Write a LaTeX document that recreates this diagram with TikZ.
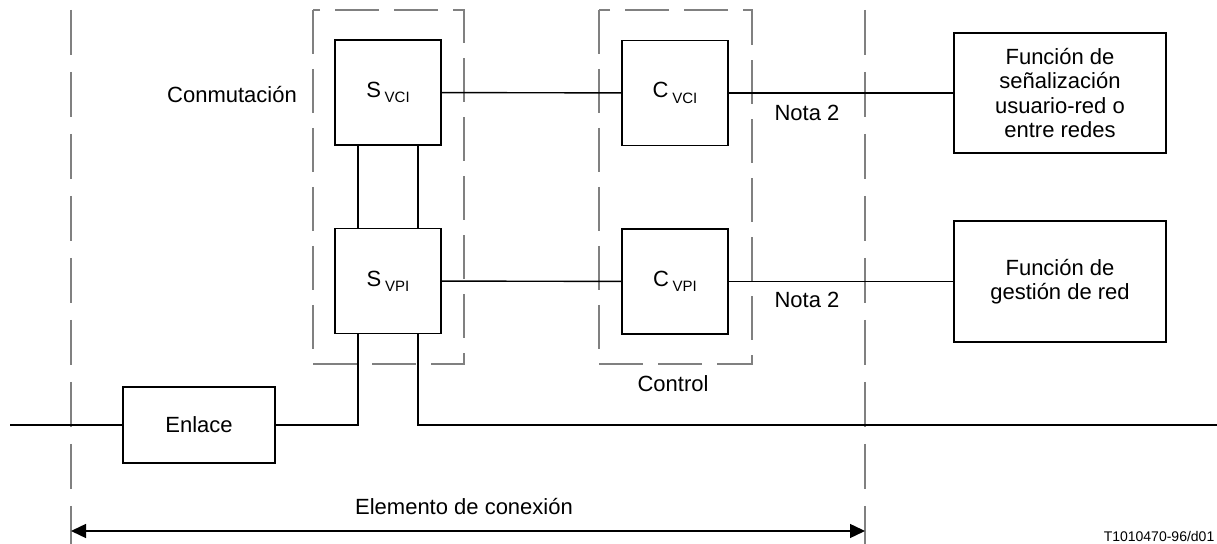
\documentclass[tikz,border=0pt]{standalone}
\usepackage{fontspec}
\setmainfont{Liberation Sans}
\usetikzlibrary{arrows.meta}
\newcommand{\lowtag}[1]{\,\raisebox{-2.6pt}{\fontsize{7.5}{9}\selectfont #1}}
\begin{document}
\begin{tikzpicture}[x=0.5pt,y=-0.5pt,
    font=\fontsize{11}{12.3}\selectfont,
    line width=0.7pt,
    fbox/.style={draw,minimum width=53pt,minimum height=52.5pt,inner sep=0pt},
    grpbox/.style={draw=gray,line width=0.8pt,dash pattern=on 22pt off 7.5pt},
    bound/.style={draw=gray,line width=0.9pt,dash pattern=on 22.5pt off 8.5pt}]
  \useasboundingbox (0,0) rectangle (1217,544);
  % blocks
  \node[fbox] (svci) at (388,92.5) {S\lowtag{VCI}};
  \node[fbox] (svpi) at (388,281) {S\lowtag{VPI}};
  \node[fbox] (cvci) at (675,93) {C\lowtag{VCI}};
  \node[fbox] (cvpi) at (675,281.5) {C\lowtag{VPI}};
  \node[draw,align=center,minimum width=106pt,minimum height=60pt] (fsig) at (1060,93)
    {Función de\\señalización\\usuario-red o\\entre redes};
  \node[draw,align=center,minimum width=106pt,minimum height=60.5pt] (fges) at (1060,281.5)
    {Función de\\gestión de red};
  \node[draw,minimum width=76pt,minimum height=38pt] (enl) at (199,425) {Enlace};
  % groups and boundaries
  \draw[grpbox] (313,10) rectangle (464,364);
  \draw[grpbox] (599,10) rectangle (752,364);
  \draw[bound] (71,10) -- (71,544);
  \draw[bound] (865,10) -- (865,544);
  \node (conm) at (232,95) {Conmutación};
  \node (ctrl) at (673,384) {Control};
  \node (nota1) at (807,113) {Nota 2};
  \node (nota2) at (807,300) {Nota 2};
  \node (elem) at (464,507) {Elemento de conexión};
  \node[anchor=south east,font=\fontsize{7}{8}\selectfont,inner sep=0pt] (fig) at (1215,542) {T1010470-96/d01};
  \coordinate (busl) at (10,425);
  \coordinate (busr) at (1217,425);
  \coordinate (ea) at (71,531);
  \coordinate (eb) at (865,531);
  % links
  \begin{scope}[-]
    \draw (svci) -- (cvci);
    \draw (cvci) -- (fsig);
    \draw (svpi) -- (cvpi);
    \draw (cvpi) -- (fges);
    \draw ([xshift=-15pt]svci.south) -- ([xshift=-15pt]svpi.north);
    \draw ([xshift=15pt]svci.south) -- ([xshift=15pt]svpi.north);
    \draw (busl) -- (enl);
    \draw (enl.east) -| ([xshift=-15pt]svpi.south);
    \draw ([xshift=15pt]svpi.south) |- (busr);
  \end{scope}
  \draw[{Triangle[length=7.5pt,width=7pt]}-{Triangle[length=7.5pt,width=7pt]}] (ea) -- (eb);
\end{tikzpicture}
\end{document}
